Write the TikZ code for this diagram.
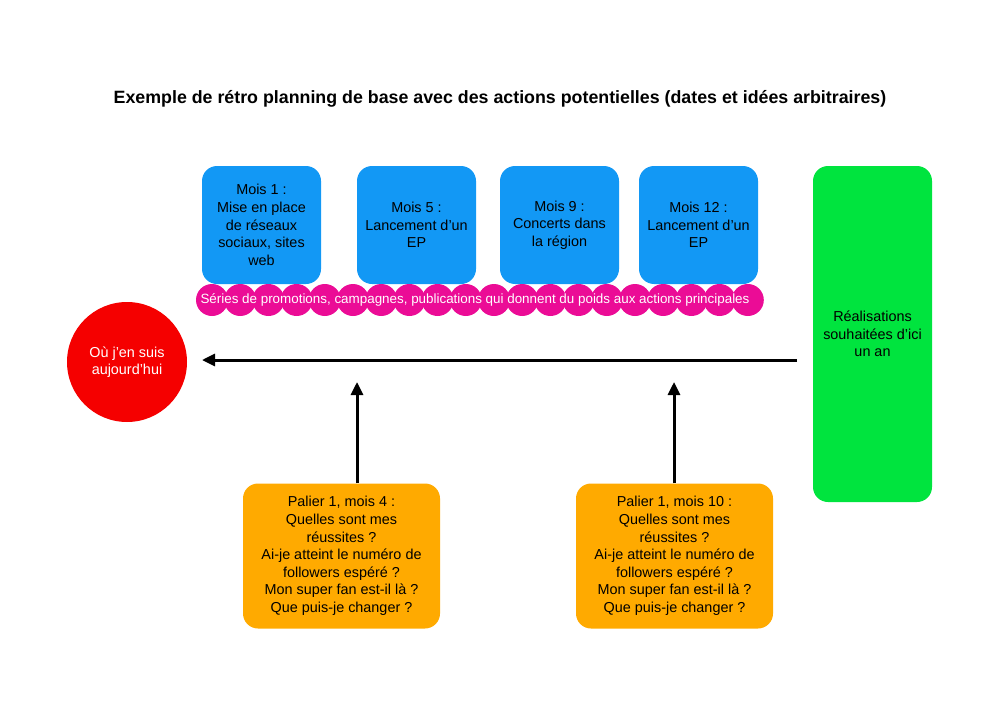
\documentclass[tikz,border=0pt]{standalone}
\usepackage{fontspec}
\setmainfont{Liberation Sans}
\usetikzlibrary{
    positioning,
    arrows.meta
}
\definecolor{bleumois}{RGB}{18,152,245}
\definecolor{rosepromo}{RGB}{235,12,150}
\definecolor{rougeici}{RGB}{245,0,0}
\definecolor{vertbut}{RGB}{0,228,62}
\definecolor{orangepalier}{RGB}{255,170,0}
\tikzset{
    >=Triangle,
    texte/.style={
        align=center,
        font=\fontsize{14.4}{17.6}\selectfont
    },
    mois/.style={
        texte,
        fill=bleumois,
        rounded corners=15pt,
        minimum width=119pt,
        minimum height=118pt,
        inner sep=2pt
    },
    palier/.style={
        texte,
        fill=orangepalier,
        rounded corners=15pt,
        minimum width=197pt,
        minimum height=145pt,
        inner sep=2pt
    },
    bulle/.style={
        circle,
        fill=rosepromo,
        minimum size=32pt,
        inner sep=0pt
    },
    fleche/.style={
        ->,
        line width=3pt,
        >={Triangle[length=13pt,width=12pt]}
    }
}

\begin{document}
\begin{tikzpicture}[
    x=1pt,
    y=-1pt
]
    \useasboundingbox (0,0) rectangle (1000,706);

    % Titre
    \node[font=\fontsize{17.8}{20}\selectfont\bfseries] (titre) at (500,99)
        {Exemple de rétro planning de base avec des actions potentielles (dates et idées arbitraires)};

    % Actions principales
    \node[mois] (m1)  at (261.5,225) {Mois 1 :\\Mise en place\\de réseaux\\sociaux, sites\\web};
    \node[mois] (m5)  at (416.5,225) {Mois 5 :\\Lancement d’un\\EP};
    \node[mois] (m9)  at (559.5,225) {Mois 9 :\\Concerts dans\\la région};
    \node[mois] (m12) at (698.5,225) {Mois 12 :\\Lancement d’un\\EP};

    % Promotions
    \foreach \i in {0,...,19}
        \node[bulle] (b\i) at (212+28.2*\i,300) {};
    \node[text=white, font=\fontsize{13.4}{15}\selectfont] (promo) at (475,300)
        {Séries de promotions, campagnes, publications qui donnent du poids aux actions principales};

    % Aujourd'hui et objectif
    \node[circle, fill=rougeici, minimum size=120pt, text=white, texte] (ici) at (127,362)
        {Où j’en suis\\aujourd’hui};
    \node[fill=vertbut, rounded corners=15pt, minimum width=119pt, minimum height=336pt] (but) at (872.5,334) {};
    \node[texte] (butx) at (but.center) {Réalisations\\souhaitées d’ici\\un an};

    % Paliers
    \node[palier] (p4)  at (341.5,556) {Palier 1, mois 4 :\\Quelles sont mes\\réussites ?\\Ai-je atteint le numéro de\\followers espéré ?\\Mon super fan est-il là ?\\Que puis-je changer ?};
    \node[palier] (p10) at (674.5,556) {Palier 1, mois 10 :\\Quelles sont mes\\réussites ?\\Ai-je atteint le numéro de\\followers espéré ?\\Mon super fan est-il là ?\\Que puis-je changer ?};

    % Flèches
    \coordinate (depart) at (797,360);
    \coordinate (arrivee) at (202,360);
    \coordinate (h4)  at (357,382);
    \coordinate (h10) at (674,382);

    \draw[fleche] (depart) -- (arrivee);
    \draw[fleche] (p4.north -| h4) -- (h4);
    \draw[fleche] (p10.north -| h10) -- (h10);

\end{tikzpicture}
\end{document}
